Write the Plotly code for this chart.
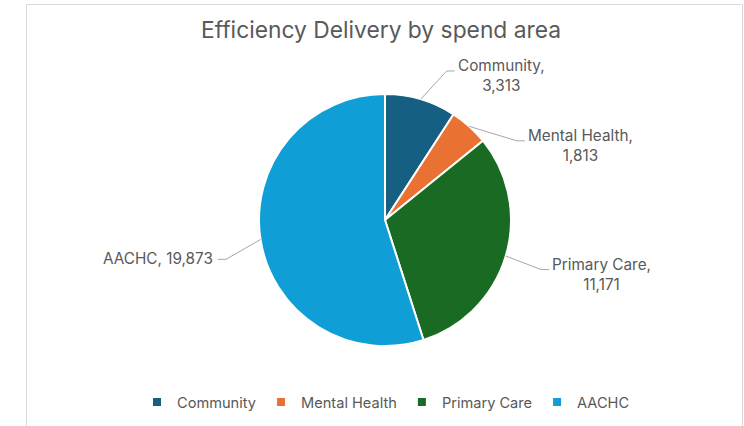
import math
import plotly.graph_objects as go

# Efficiency delivery split by spend area
categories = ["Community", "Mental Health", "Primary Care", "AACHC"]
values = [3313, 1813, 11171, 19873]
colors = ["#156082", "#E97132", "#196B24", "#0F9ED5"]

W, H = 744, 426
CX, CY, R = 385, 220, 126          # pie centre and radius in pixels
TEXT = "#595959"
FONT = "Inter"

# nudges (degrees) that spread the outside labels apart, and leader lengths
label_shift = [6, 17, 1, -5]
leader_len = [1.28, 1.22, 1.30, 1.30]


def px(x):
    return x / W


def py(y):
    return 1 - y / H


fig = go.Figure()
fig.add_trace(go.Pie(
    labels=categories, values=values, sort=False, direction="clockwise",
    rotation=0, textinfo="none", hoverinfo="label+value",
    marker=dict(colors=colors, line=dict(color="white", width=2)),
    domain=dict(x=[px(CX - R), px(CX + R)], y=[py(CY + R), py(CY - R)]),
    showlegend=False,
))

# legend entries with small square swatches
for name, col in zip(categories, colors):
    fig.add_trace(go.Scatter(
        x=[None], y=[None], mode="markers", name=name,
        marker=dict(symbol="square", size=8, color=col),
    ))

shapes = []
annotations = []
total = sum(values)
cum = 0
for i, (name, v) in enumerate(zip(categories, values)):
    mid = (cum + v / 2) / total * 360
    cum += v
    a = math.radians(mid)
    sx, sy = CX + R * math.sin(a), CY - R * math.cos(a)
    b = math.radians(mid + label_shift[i])
    ex = CX + R * leader_len[i] * math.sin(b)
    ey = CY - R * leader_len[i] * math.cos(b)
    right = math.sin(b) >= 0
    hx = ex + (8 if right else -8)
    shapes.append(dict(
        type="path", xref="paper", yref="paper",
        path=f"M{px(sx)},{py(sy)} L{px(ex)},{py(ey)} L{px(hx)},{py(ey)}",
        line=dict(color="#a6a6a6", width=1),
    ))
    val = f"{v:,}"
    if right:
        text = f"{name},<br>{val}"
        annotations.append(dict(
            x=px(hx + 1), y=py(ey + 5), xref="paper", yref="paper",
            text=text, showarrow=False, xanchor="left", yanchor="middle",
            align="center", font=dict(family=FONT, size=15.3, color=TEXT),
        ))
    else:
        text = f"{name}, {val}"
        annotations.append(dict(
            x=px(hx - 3), y=py(ey - 1), xref="paper", yref="paper",
            text=text, showarrow=False, xanchor="right", yanchor="middle",
            align="right", font=dict(family=FONT, size=15.3, color=TEXT),
        ))

# chart frame
shapes.append(dict(
    type="rect", xref="paper", yref="paper",
    x0=px(26.5), x1=px(742.5), y0=py(440), y1=py(4.5),
    line=dict(color="#d9d9d9", width=1), fillcolor="rgba(0,0,0,0)", layer="below",
))

fig.update_layout(
    width=W, height=H,
    margin=dict(l=0, r=0, t=0, b=0),
    paper_bgcolor="white", plot_bgcolor="white",
    title=dict(text="Efficiency Delivery by spend area", x=px(381), xanchor="center",
               y=py(30), yanchor="middle",
               font=dict(family=FONT, size=22.8, color=TEXT)),
    xaxis=dict(visible=False), yaxis=dict(visible=False),
    legend=dict(orientation="h", x=px(386), xanchor="center", y=py(402),
                yanchor="middle", font=dict(family=FONT, size=14.6, color=TEXT),
                itemwidth=30, bgcolor="rgba(0,0,0,0)"),
    shapes=shapes, annotations=annotations,
)

fig.write_html("out.html")
